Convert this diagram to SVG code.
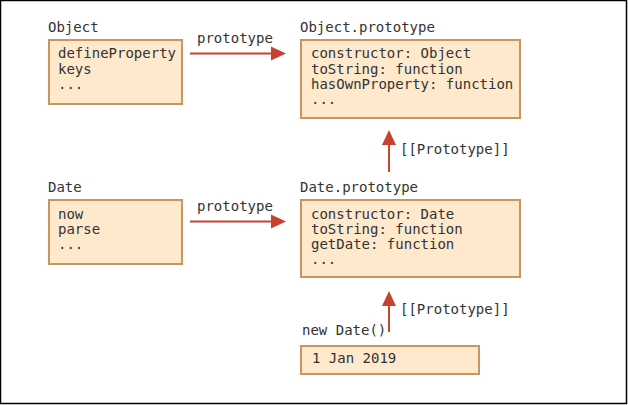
<svg xmlns="http://www.w3.org/2000/svg" width="628" height="405" viewBox="0 0 628 405">
<style>
text{font-family:"DejaVu Sans Mono","Liberation Mono",monospace;font-size:14px;fill:#333}
.box{fill:#FFE9CC;stroke:#C8955E;stroke-width:2}
.ln{stroke:#C8432F;stroke-width:2;fill:none}
.hd{fill:#C8432F}
</style>
<rect x="0.5" y="0.5" width="626" height="403" fill="#fff" stroke="#000" stroke-width="1.5"/>
<g id="object">
<text x="48" y="32">Object</text>
<rect class="box" x="49" y="40" width="133" height="64"/>
<text x="58" y="58">defineProperty</text>
<text x="58" y="74">keys</text>
<text x="58" y="89">...</text>
</g>
<g id="object-prototype">
<text x="300" y="32">Object.prototype</text>
<rect class="box" x="301" y="40" width="219" height="78"/>
<text x="311" y="58">constructor: Object</text>
<text x="311" y="74">toString: function</text>
<text x="311" y="89">hasOwnProperty: function</text>
<text x="311" y="104">...</text>
</g>
<g id="date">
<text x="48" y="192">Date</text>
<rect class="box" x="49" y="200" width="133" height="64"/>
<text x="58" y="219">now</text>
<text x="58" y="234">parse</text>
<text x="58" y="249">...</text>
</g>
<g id="date-prototype">
<text x="300" y="192">Date.prototype</text>
<rect class="box" x="301" y="200" width="219" height="77"/>
<text x="311" y="219">constructor: Date</text>
<text x="311" y="234">toString: function</text>
<text x="311" y="249">getDate: function</text>
<text x="311" y="264">...</text>
</g>
<g id="new-date">
<text x="302" y="335">new Date()</text>
<rect class="box" x="301" y="346" width="178" height="28"/>
<text x="312" y="363">1 Jan 2019</text>
</g>
<g id="connectors">
<line class="ln" x1="190" y1="53.5" x2="273" y2="53.5"/>
<polygon class="hd" points="271,46.5 286,53.5 271,60.5"/>
<text x="197" y="43">prototype</text>
<line class="ln" x1="190" y1="221.5" x2="273" y2="221.5"/>
<polygon class="hd" points="271,214.5 286,221.5 271,228.5"/>
<text x="197" y="211">prototype</text>
<line class="ln" x1="389" y1="172" x2="389" y2="143"/>
<polygon class="hd" points="382,145 389,130 396,145"/>
<text x="400" y="154">[[Prototype]]</text>
<line class="ln" x1="389" y1="332" x2="389" y2="304"/>
<polygon class="hd" points="382,306 389,291 396,306"/>
<text x="400" y="314">[[Prototype]]</text>
</g>
</svg>
